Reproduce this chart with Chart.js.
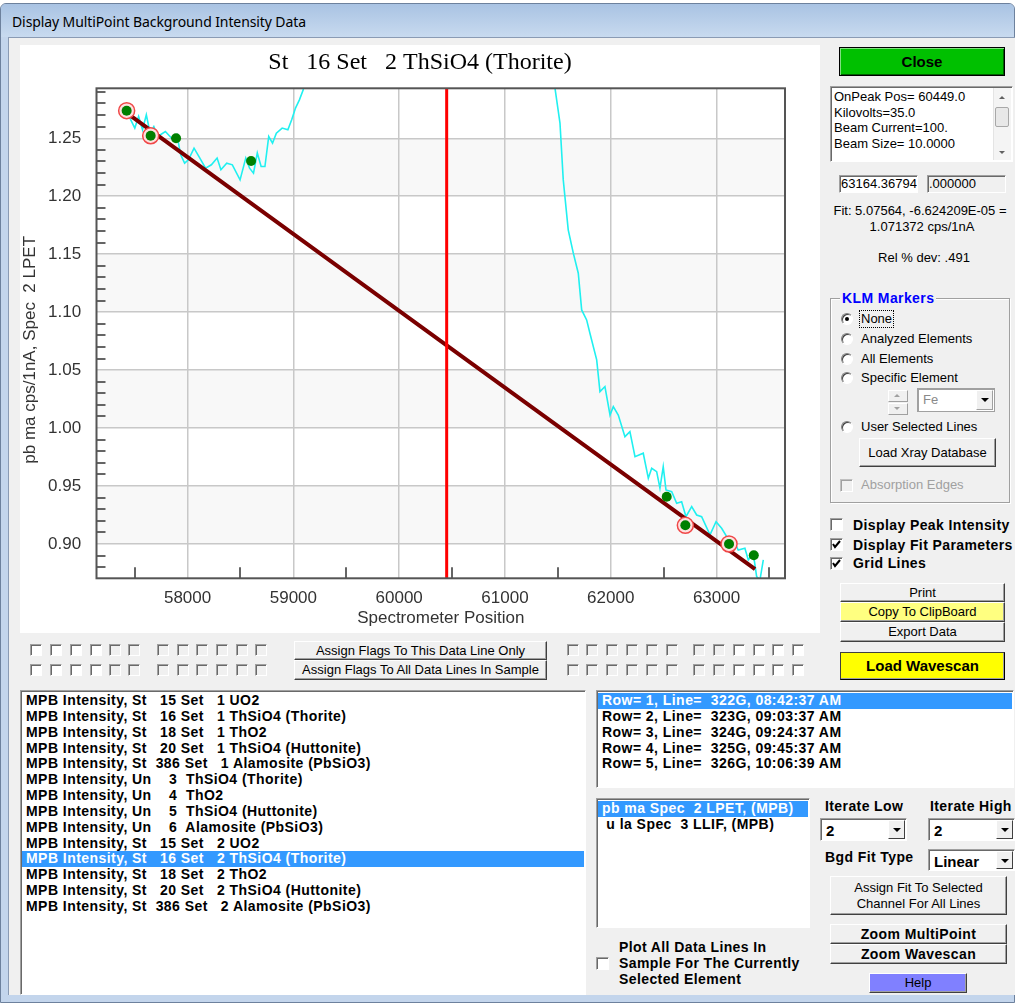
<!DOCTYPE html>
<html>
<head>
<meta charset="utf-8">
<title>Display MultiPoint Background Intensity Data</title>
<script src="https://cdn.jsdelivr.net/npm/chart.js@4.4.0/dist/chart.umd.min.js"></script>
<style>
body { margin:0; width:1015px; height:1006px; background:#fff; position:relative; overflow:hidden;
  font-family:"Liberation Sans", Arial, sans-serif; font-size:13px; color:#000; }
.a { position:absolute; }
#frame { left:0; top:3px; width:1015px; height:1000px; background:#c3d5ec; border:1px solid #6d819d;
  border-radius:6px 6px 0 0; box-sizing:border-box; }
#titlebar { left:1px; top:4px; width:1013px; height:33px; background:linear-gradient(#a9c3e3,#c8daef);
  border-radius:5px 5px 0 0; }
#wintitle { left:12px; top:12px; font-family:"Noto Sans", sans-serif; font-size:14px; letter-spacing:-0.1px; color:#000; white-space:pre; }
#client { left:8px; top:37px; width:1007px; height:958px; background:#f0f0f0; border-left:1px solid #8a9bb4;
  border-top:1px solid #8a9bb4; box-sizing:border-box; }
#plotPanel { left:20px; top:45px; width:800px; height:588px; background:#fff; }
.btn { position:absolute; box-sizing:border-box; background:#f0f0f0; border:1px solid; border-color:#fff #404040 #404040 #fff;
  box-shadow: inset -1px -1px 0 #a0a0a0; display:flex; align-items:center; justify-content:center; white-space:pre; text-align:center; line-height:16px; }
.sunk { position:absolute; box-sizing:border-box; background:#fff; border:1px solid; border-color:#a0a0a0 #fff #fff #a0a0a0;
  box-shadow: inset 1px 1px 0 #696969; overflow:hidden; }
.cb { position:absolute; width:13px; height:13px; box-sizing:border-box; background:#fff; border:1px solid;
  border-color:#a0a0a0 #fff #fff #a0a0a0; box-shadow: inset 1px 1px 0 #696969; }
.cb.off { background:#f0f0f0; }
.cb svg { position:absolute; left:1px; top:1px; }
.rd { position:absolute; width:12px; height:12px; box-sizing:border-box; border-radius:50%; background:#fff;
  border:1px solid; border-color:#808080 #fff #fff #808080; box-shadow: inset 1px 1px 0 #404040; }
.rd.on::after { content:""; position:absolute; left:3px; top:3px; width:4px; height:4px; border-radius:50%; background:#000; }
.lbl { position:absolute; white-space:pre; line-height:16px; }
.bold { font-weight:bold; font-size:14px; letter-spacing:.4px; }
.list { position:absolute; box-sizing:border-box; background:#fff; border:1px solid; border-color:#a0a0a0 #fff #fff #a0a0a0;
  box-shadow: inset 1px 1px 0 #696969; padding:2px 1px; overflow:hidden; }
.list div { height:15.85px; line-height:15.85px; white-space:pre; font-weight:bold; font-size:14px; letter-spacing:.45px; padding-left:4px; }
.list div.sel { background:#3399ff; color:#fff; }
.combo { position:absolute; box-sizing:border-box; background:#fff; border:1px solid; border-color:#a0a0a0 #fff #fff #a0a0a0;
  box-shadow: inset 1px 1px 0 #696969; }
.combo span { position:absolute; left:5px; top:3px; font-size:15px; font-weight:bold; }
.combo i { position:absolute; right:1px; top:1px; bottom:1px; width:17px; background:#f0f0f0; border:1px solid; box-sizing:border-box;
  border-color:#fff #404040 #404040 #fff; }
.combo i::after { content:""; position:absolute; left:4px; top:7px; border-left:4px solid transparent; border-right:4px solid transparent; border-top:4px solid #000; }
</style>
</head>
<body>
<div id="frame" class="a"></div>
<div id="titlebar" class="a"></div>
<div id="wintitle" class="a">Display MultiPoint Background Intensity Data</div>
<div id="client" class="a"></div>

<div id="plotPanel" class="a"><canvas id="mpbChart" width="800" height="588"></canvas></div>

<!-- right side controls -->
<div class="btn" style="left:839px;top:47px;width:166px;height:29px;background:#00c000;border-color:#000;box-shadow:inset 1px 1px 0 #80e080, inset -1px -1px 0 #006000;font-weight:bold;font-size:15px;">Close</div>

<div class="sunk" style="left:830px;top:86px;width:183px;height:76px;">
  <div class="lbl" style="left:3px;top:2px;line-height:15.7px;">OnPeak Pos= 60449.0
Kilovolts=35.0
Beam Current=100.
Beam Size= 10.0000</div>
  <div class="a" style="right:1px;top:1px;width:17px;bottom:1px;background:#f4f4f4;border-left:1px solid #e4e4e4;">
    <div class="a" style="left:5px;top:8px;border-left:3px solid transparent;border-right:3px solid transparent;border-bottom:3px solid #606060;"></div>
    <div class="a" style="left:1px;top:19px;width:14px;height:20px;box-sizing:border-box;background:#e8e8e8;border:1px solid #a8a8a8;border-radius:2px;"></div>
    <div class="a" style="left:5px;bottom:6px;border-left:3px solid transparent;border-right:3px solid transparent;border-top:3px solid #606060;"></div>
  </div>
</div>

<div class="sunk" style="left:839px;top:175px;width:79px;height:18px;"><div class="lbl" style="left:1px;top:0px;">63164.36794</div></div>
<div class="sunk" style="left:927px;top:175px;width:79px;height:18px;background:#f0f0f0;"><div class="lbl" style="left:1px;top:0px;">.000000</div></div>

<div class="lbl" style="left:822px;top:203px;width:196px;text-align:center;">Fit: 5.07564, -6.624209E-05 =</div>
<div class="lbl" style="left:824px;top:219px;width:196px;text-align:center;">1.071372 cps/1nA</div>
<div class="lbl" style="left:826px;top:250px;width:196px;text-align:center;">Rel % dev: .491</div>

<!-- KLM markers group -->
<div class="a" style="left:830px;top:298px;width:180px;height:205px;box-sizing:border-box;border:1px solid #a0a0a0;box-shadow:1px 1px 0 #fff, inset 1px 1px 0 #fff;"></div>
<div class="lbl bold" style="left:840px;top:290px;color:#0000ff;background:#f0f0f0;padding:0 2px;">KLM Markers</div>
<div class="rd on" style="left:841px;top:313px;"></div>
<div class="lbl" style="left:860px;top:311px;outline:1px dotted #000;padding:0 1px;">None</div>
<div class="rd" style="left:841px;top:333px;"></div>
<div class="lbl" style="left:861px;top:331px;">Analyzed Elements</div>
<div class="rd" style="left:841px;top:353px;"></div>
<div class="lbl" style="left:861px;top:351px;">All Elements</div>
<div class="rd" style="left:841px;top:372px;"></div>
<div class="lbl" style="left:861px;top:370px;">Specific Element</div>
<div class="a" style="left:888px;top:390px;width:20px;height:12px;box-sizing:border-box;background:#f0f0f0;border:1px solid;border-color:#fff #a0a0a0 #a0a0a0 #fff;">
  <div class="a" style="left:5px;top:3px;border-left:3px solid transparent;border-right:3px solid transparent;border-bottom:3px solid #a0a0a0;"></div></div>
<div class="a" style="left:888px;top:403px;width:20px;height:12px;box-sizing:border-box;background:#f0f0f0;border:1px solid;border-color:#fff #a0a0a0 #a0a0a0 #fff;">
  <div class="a" style="left:5px;top:3px;border-left:3px solid transparent;border-right:3px solid transparent;border-top:3px solid #a0a0a0;"></div></div>
<div class="combo" style="left:917px;top:388px;width:78px;height:24px;border-color:#a0a0a0;box-shadow:inset 1px 1px 0 #a0a0a0;">
  <span style="font-weight:normal;font-size:13px;color:#8a8a8a;">Fe</span><i style="border-color:#fff #a0a0a0 #a0a0a0 #fff;"></i></div>
<div class="rd" style="left:841px;top:421px;"></div>
<div class="lbl" style="left:861px;top:419px;">User Selected Lines</div>
<div class="btn" style="left:859px;top:438px;width:137px;height:29px;">Load Xray Database</div>
<div class="cb off" style="left:840px;top:479px;border-color:#c0c0c0 #fff #fff #c0c0c0;box-shadow:inset 1px 1px 0 #a0a0a0;"></div>
<div class="lbl" style="left:861px;top:477px;color:#a0a0a0;">Absorption Edges</div>

<div class="cb" style="left:830px;top:518px;"></div>
<div class="lbl bold" style="left:853px;top:517px;">Display Peak Intensity</div>
<div class="cb" style="left:830px;top:538px;"><svg width="9" height="9"><polyline points="1,4 3,7 8,1" fill="none" stroke="#000" stroke-width="2"/></svg></div>
<div class="lbl bold" style="left:853px;top:537px;">Display Fit Parameters</div>
<div class="cb" style="left:830px;top:557px;"><svg width="9" height="9"><polyline points="1,4 3,7 8,1" fill="none" stroke="#000" stroke-width="2"/></svg></div>
<div class="lbl bold" style="left:853px;top:555px;">Grid Lines</div>

<div class="btn" style="left:840px;top:583px;width:165px;height:19px;">Print</div>
<div class="btn" style="left:840px;top:602px;width:165px;height:20px;background:#ffff80;">Copy To ClipBoard</div>
<div class="btn" style="left:840px;top:622px;width:165px;height:20px;">Export Data</div>
<div class="btn" style="left:840px;top:652px;width:165px;height:28px;background:#ffff00;border-color:#404040 #000 #000 #404040;font-weight:bold;font-size:15px;">Load Wavescan</div>

<!-- flag row -->
<div id="flags"></div>
<div class="btn" style="left:294px;top:641px;width:253px;height:19px;">Assign Flags To This Data Line Only</div>
<div class="btn" style="left:294px;top:660px;width:253px;height:20px;">Assign Flags To All Data Lines In Sample</div>

<!-- lists -->
<div id="sampleList" class="list" style="left:20px;top:690px;width:566px;height:305px;"></div>
<div id="rowList" class="list" style="left:596px;top:690px;width:418px;height:98px;"></div>
<div id="chanList" class="list" style="left:596px;top:798px;width:214px;height:130px;"></div>

<div class="lbl bold" style="left:825px;top:798px;">Iterate Low</div>
<div class="lbl bold" style="left:930px;top:798px;">Iterate High</div>
<div class="combo" style="left:820px;top:818px;width:87px;height:23px;"><span>2</span><i></i></div>
<div class="combo" style="left:928px;top:818px;width:87px;height:23px;"><span>2</span><i></i></div>
<div class="lbl bold" style="left:825px;top:849px;">Bgd Fit Type</div>
<div class="combo" style="left:928px;top:849px;width:87px;height:22px;"><span>Linear</span><i></i></div>
<div class="btn" style="left:830px;top:876px;width:177px;height:39px;">Assign Fit To Selected
Channel For All Lines</div>
<div class="btn bold" style="left:830px;top:924px;width:177px;height:20px;">Zoom MultiPoint</div>
<div class="btn bold" style="left:830px;top:944px;width:177px;height:20px;">Zoom Wavescan</div>
<div class="btn" style="left:869px;top:973px;width:98px;height:20px;background:#8080ff;">Help</div>

<div class="cb" style="left:596px;top:957px;"></div>
<div class="lbl bold" style="left:619px;top:939px;">Plot All Data Lines In
Sample For The Currently
Selected Element</div>

<script>
"use strict";

// Plot texts (y title is padded at its end so it sits a little lower, as in the original)
const titleText = 'St   16 Set   2 ThSiO4 (Thorite)';
const xAxisTitle = 'Spectrometer Position';
const yAxisTitle = 'pb ma cps/1nA, Spec  2 LPET       ';

// Axis ranges and ticks
const xRange = [57139, 63647];
const yRange = [0.8704, 1.2931];
const xTickValues = [58000, 59000, 60000, 61000, 62000, 63000];
const xMinorTicks = [57500, 58500, 59500, 60500, 61500, 62500, 63500];
const yTickValues = [0.90, 0.95, 1.00, 1.05, 1.10, 1.15, 1.20, 1.25];
const yMinorTicks = [0.88, 0.89, 0.91, 0.92, 0.93, 0.94, 0.96, 0.97, 0.98, 0.99,
    1.01, 1.02, 1.03, 1.04, 1.06, 1.07, 1.08, 1.09, 1.11, 1.12, 1.13, 1.14,
    1.16, 1.17, 1.18, 1.19, 1.21, 1.22, 1.23, 1.24, 1.26, 1.27, 1.28, 1.29];

// Wavescan trace (cyan), peak goes off the top of the plot
const scanX = [57447, 57501, 57537, 57574, 57610, 57646, 57681, 57718, 57790, 57863,
    57899, 57935, 57972, 58008, 58061, 58116, 58170, 58225, 58279, 58315,
    58370, 58423, 58496, 58550, 58586, 58623, 58659, 58695, 58731, 58767,
    58803, 58839, 58894, 58948, 58984, 59020, 59057, 59093, 59140,
    61455, 61470, 61520, 61551, 61598, 61646, 61693, 61725, 61772, 61803,
    61867, 61898, 61945, 61993, 62024, 62071, 62134, 62181, 62229, 62307,
    62355, 62387, 62434, 62465, 62496, 62522, 62576, 62623, 62670, 62711,
    62765, 62812, 62859, 62938, 62995, 63048, 63096, 63158, 63205, 63268,
    63300, 63347, 63379, 63410, 63442];
const scanY = [1.2688, 1.2588, 1.2688, 1.2573, 1.2702, 1.2544, 1.2601, 1.2515, 1.2558, 1.2487,
    1.2530, 1.2357, 1.2285, 1.2314, 1.2415, 1.2329, 1.2242, 1.2271, 1.2329, 1.2228,
    1.2285, 1.2271, 1.2141, 1.2329, 1.2242, 1.2199, 1.2372, 1.2256, 1.2256, 1.2515,
    1.2458, 1.2544, 1.2588, 1.2573, 1.2659, 1.2760, 1.2831, 1.2918, 1.3300,
    1.3300, 1.2950, 1.2631, 1.2141, 1.1710, 1.1509, 1.1336, 1.1019, 1.0933, 1.0818,
    1.0588, 1.0314, 1.0358, 1.0113, 1.0185, 1.0113, 0.9926, 0.9969, 0.9753, 0.9783,
    0.9567, 0.9653, 0.9624, 0.9481, 0.9667, 0.9466, 0.9451, 0.9351, 0.9365, 0.9236,
    0.9322, 0.9250, 0.9236, 0.9078, 0.9192, 0.9135, 0.9063, 0.9035, 0.8948, 0.8963,
    0.8862, 0.8920, 0.8718, 0.8689, 0.8862];

// Background points (green); usedInFit = circled in red
const ptX = [57424, 57651, 57891, 58600, 62529, 62705, 63118, 63352];
const ptY = [1.2738, 1.2522, 1.2500, 1.2304, 0.9408, 0.9161, 0.9000, 0.8903];
const usedInFit = [true, true, false, false, false, true, true, false];

// Linear fit line and on-peak position
const fitX = [57424, 60449, 63364];
const fitY = [1.2718, 1.0714, 0.8783];
const onPeakPos = 60449;

// Lists below the plot
const sampleLines = [
    'MPB Intensity, St   15 Set   1 UO2',
    'MPB Intensity, St   16 Set   1 ThSiO4 (Thorite)',
    'MPB Intensity, St   18 Set   1 ThO2',
    'MPB Intensity, St   20 Set   1 ThSiO4 (Huttonite)',
    'MPB Intensity, St  386 Set   1 Alamosite (PbSiO3)',
    'MPB Intensity, Un    3  ThSiO4 (Thorite)',
    'MPB Intensity, Un    4  ThO2',
    'MPB Intensity, Un    5  ThSiO4 (Huttonite)',
    'MPB Intensity, Un    6  Alamosite (PbSiO3)',
    'MPB Intensity, St   15 Set   2 UO2',
    'MPB Intensity, St   16 Set   2 ThSiO4 (Thorite)',
    'MPB Intensity, St   18 Set   2 ThO2',
    'MPB Intensity, St   20 Set   2 ThSiO4 (Huttonite)',
    'MPB Intensity, St  386 Set   2 Alamosite (PbSiO3)'
];
const rowLines = [
    'Row= 1, Line=  322G, 08:42:37 AM',
    'Row= 2, Line=  323G, 09:03:37 AM',
    'Row= 3, Line=  324G, 09:24:37 AM',
    'Row= 4, Line=  325G, 09:45:37 AM',
    'Row= 5, Line=  326G, 10:06:39 AM'
];
const chanLines = ['pb ma Spec  2 LPET, (MPB)', ' u la Spec  3 LLIF, (MPB)'];

function fillList(id, items, selIndex) {
    const box = document.getElementById(id);
    items.forEach((txt, i) => {
        const d = document.createElement('div');
        d.textContent = txt;
        if (i === selIndex) d.className = 'sel';
        box.appendChild(d);
    });
}
fillList('sampleList', sampleLines, 10);
fillList('rowList', rowLines, 0);
fillList('chanList', chanLines, 0);

// Flag check boxes (two rows, four groups of six)
const flagLefts = [[30, 50, 70, 90, 109, 128], [157, 177, 196, 216, 236, 255],
    [567, 586, 606, 626, 646, 666], [693, 713, 733, 753, 772, 792]];
const flagHolder = document.getElementById('flags');
[644, 664].forEach(top => {
    flagLefts.forEach((grp, g) => {
        grp.forEach((left, k) => {
            const c = document.createElement('div');
            const enabled = (g === 0 && k < 4) || (g === 3 && k > 1);
            c.className = enabled ? 'cb' : 'cb off';
            c.style.left = left + 'px';
            c.style.top = top + 'px';
            c.style.width = '12px';
            c.style.height = '12px';
            flagHolder.appendChild(c);
        });
    });
});

// Chart
Chart.defaults.font.family = '"Liberation Sans", Arial, sans-serif';

const toXY = (xs, ys) => xs.map((v, i) => ({x: v, y: ys[i]}));

const plotDecor = {
    id: 'plotDecor',
    beforeDraw(chart) {
        // alternating horizontal bands
        const {ctx, chartArea: a, scales: {y}} = chart;
        ctx.save();
        ctx.fillStyle = '#f8f8f8';
        for (let i = 0; i + 1 < yTickValues.length; i += 2) {
            const top = y.getPixelForValue(yTickValues[i + 1]);
            const bot = y.getPixelForValue(yTickValues[i]);
            ctx.fillRect(a.left, top, a.right - a.left, bot - top);
        }
        ctx.restore();
    },
    afterDatasetsDraw(chart) {
        const {ctx, chartArea: a, scales: {x, y}} = chart;
        ctx.save();
        // inner tick marks
        ctx.strokeStyle = '#333';
        ctx.lineWidth = 1.5;
        ctx.beginPath();
        xMinorTicks.forEach(v => {
            const px = Math.round(x.getPixelForValue(v));
            ctx.moveTo(px, a.bottom);
            ctx.lineTo(px, a.bottom - 11);
        });
        yMinorTicks.forEach(v => {
            const py = Math.round(y.getPixelForValue(v));
            ctx.moveTo(a.left, py);
            ctx.lineTo(a.left + 9, py);
        });
        ctx.stroke();
        // frame
        ctx.strokeStyle = '#555';
        ctx.lineWidth = 2;
        ctx.strokeRect(a.left, a.top, a.right - a.left, a.bottom - a.top);
        ctx.restore();
    },
    afterDraw(chart) {
        const ctx = chart.ctx;
        ctx.save();
        ctx.font = '24px "Liberation Serif", "Times New Roman", serif';
        ctx.fillStyle = '#000';
        ctx.textAlign = 'center';
        ctx.textBaseline = 'alphabetic';
        ctx.fillText(titleText, chart.width / 2, 24);
        ctx.restore();
    }
};

new Chart(document.getElementById('mpbChart'), {
    type: 'scatter',
    data: {
        datasets: [
            {
                // background points
                data: toXY(ptX, ptY),
                showLine: false,
                pointRadius: 5,
                pointBackgroundColor: '#008000',
                pointBorderWidth: 0,
                order: 1
            },
            {
                // points used in the fit
                data: toXY(ptX.filter((v, i) => usedInFit[i]), ptY.filter((v, i) => usedInFit[i])),
                showLine: false,
                pointRadius: 8,
                pointBackgroundColor: '#ffe0e0',
                pointBorderColor: '#f04848',
                pointBorderWidth: 1.5,
                order: 2
            },
            {
                // on-peak position
                data: [{x: onPeakPos, y: yRange[0]}, {x: onPeakPos, y: yRange[1]}],
                showLine: true,
                borderColor: '#ff0000',
                borderWidth: 3,
                pointRadius: 0,
                clip: 0,
                order: 3
            },
            {
                // linear background fit
                data: toXY(fitX, fitY),
                showLine: true,
                borderColor: '#7a0000',
                borderWidth: 4,
                pointRadius: 0,
                order: 4
            },
            {
                // wavescan
                data: toXY(scanX, scanY),
                showLine: true,
                borderColor: '#20f0f0',
                borderWidth: 1.6,
                pointRadius: 0,
                clip: 0,
                order: 5
            }
        ]
    },
    options: {
        responsive: false,
        animation: false,
        layout: { padding: { top: 43.3, right: 35, left: 0, bottom: 0 } },
        plugins: {
            legend: { display: false },
            tooltip: { enabled: false }
        },
        scales: {
            x: {
                type: 'linear',
                min: xRange[0],
                max: xRange[1],
                afterBuildTicks: s => { s.ticks = xTickValues.map(v => ({value: v})); },
                afterFit: s => { s.height = 54.7; },
                ticks: {
                    color: '#333',
                    font: { size: 17 },
                    padding: 9.5,
                    callback: v => String(v)
                },
                grid: { color: '#c8c8c8', lineWidth: 1.5, drawTicks: false },
                border: { display: false },
                title: {
                    display: true,
                    text: xAxisTitle,
                    color: '#333',
                    font: { size: 17 },
                    padding: { top: 0, bottom: 4 }
                }
            },
            y: {
                type: 'linear',
                min: yRange[0],
                max: yRange[1],
                afterBuildTicks: s => { s.ticks = yTickValues.map(v => ({value: v})); },
                afterFit: s => { s.width = 76.5; },
                ticks: {
                    color: '#333',
                    font: { size: 17 },
                    padding: 15.3,
                    callback: v => v.toFixed(2)
                },
                grid: { color: '#c8c8c8', lineWidth: 1.5, drawTicks: false },
                border: { display: false },
                title: {
                    display: true,
                    text: yAxisTitle,
                    color: '#333',
                    font: { size: 17 },
                    padding: { top: 0, bottom: 0 }
                }
            }
        }
    },
    plugins: [plotDecor]
});
</script>
</body>
</html>
